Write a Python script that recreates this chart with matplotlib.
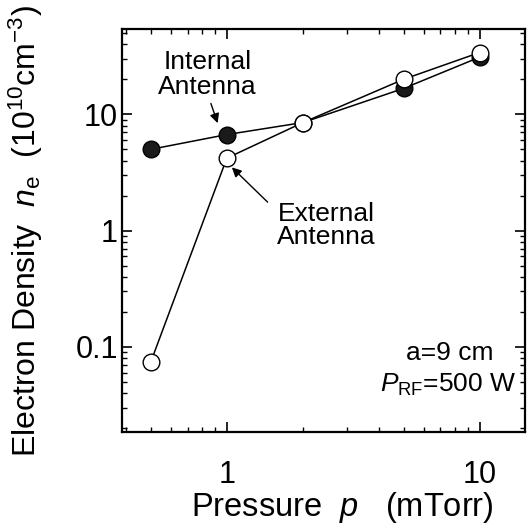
import matplotlib
matplotlib.use("Agg")
import matplotlib.pyplot as plt

plt.rcParams['font.family'] = ['Liberation Sans', 'DejaVu Sans']
plt.rcParams['mathtext.fontset'] = 'custom'
plt.rcParams['mathtext.rm'] = 'Liberation Sans'
plt.rcParams['mathtext.it'] = 'Liberation Sans:italic'

# pressure (mTorr) and electron density (1e10 cm^-3)
pressure = [0.5, 1, 2, 5, 10]
internal_ne = [5.0, 6.7, 8.5, 16.7, 31]
external_ne = [0.074, 4.2, 8.5, 20, 34]

fig = plt.figure(figsize=(5.27, 5.30), dpi=100)
ax = fig.add_axes([0.2315, 0.185, 0.7645, 0.760])

ax.plot(pressure, internal_ne, '-o', color='black', lw=1.1,
        markersize=12, markerfacecolor='#1a1a1a', markeredgecolor='black', zorder=3)
ax.plot(pressure, external_ne, '-o', color='black', lw=1.1,
        markersize=12, markerfacecolor='white', markeredgecolor='black', zorder=4)

ax.set_xscale('log')
ax.set_yscale('log')
ax.set_xlim(0.385, 15.1)
ax.set_ylim(0.0186, 54)

ax.set_xticks([1, 10])
ax.set_xticklabels(['1', '10'])
ax.set_yticks([0.1, 1, 10])
ax.set_yticklabels(['0.1', '1', '10'])

ax.tick_params(which='both', direction='in', top=True, right=True)
ax.tick_params(which='major', length=7, width=1.2)
ax.tick_params(which='minor', length=3.5, width=1.0)
ax.tick_params(axis='x', which='major', labelsize=22, pad=20)
ax.tick_params(axis='y', which='major', labelsize=22, pad=3)
for s in ax.spines.values():
    s.set_linewidth(1.6)

ax.set_xlabel(r'Pressure  $\it{p}$   (mTorr)', fontsize=23.5, labelpad=4)
ax.xaxis.set_label_coords(0.546, -0.145)
ax.set_ylabel(r'Electron Density  $\it{n}_{\mathrm{e}}$  (10$^{10}$cm$^{-3}$)',
              fontsize=23, labelpad=22)

ax.text(0.84, 22, 'Internal\nAntenna', ha='center', va='center',
        fontsize=19, linespacing=1.05)
ax.text(2.48, 1.1, 'External\nAntenna', ha='center', va='center',
        fontsize=19, linespacing=0.95)

arrow = dict(arrowstyle='-|>', color='black', lw=1, mutation_scale=14,
             shrinkA=0, shrinkB=0)
ax.annotate('', xy=(0.92, 8.4), xytext=(0.865, 12.4), arrowprops=arrow)
ax.annotate('', xy=(1.047, 3.5), xytext=(1.45, 1.76), arrowprops=arrow)

ax.text(0.921, 0.179, 'a=9 cm', transform=ax.transAxes, ha='right',
        va='baseline', fontsize=19)
ax.text(0.980, 0.099, r'$\it{P}_{\mathrm{RF}}$=500 W', transform=ax.transAxes,
        ha='right', va='baseline', fontsize=19)

fig.savefig('out.png', dpi=100)
